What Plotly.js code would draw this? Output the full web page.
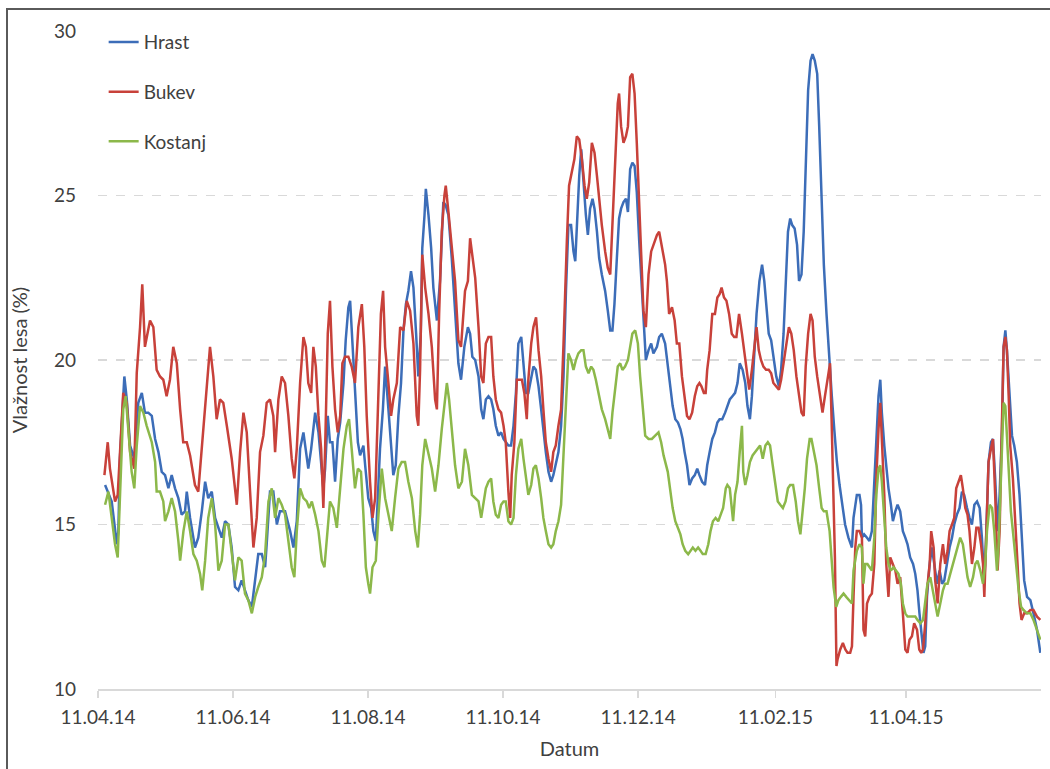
<!DOCTYPE html>
<html><head><meta charset="utf-8">
<script src="https://cdn.plot.ly/plotly-3.0.1.min.js"></script>
<style>
html,body{margin:0;padding:0;background:#fff;overflow:hidden;}
#chart{width:1050px;height:769px;}
#frame{position:absolute;left:6px;top:8px;width:1100px;height:820px;border-left:2px solid #5a5a5a;border-top:2px solid #5a5a5a;pointer-events:none;}
</style></head><body>
<div id="chart"></div><div id="frame"></div>
<script>
// days since 11.04.14
const tickDays = [0,61,122,183,244,306,365];
const tickLabels = ['11.04.14','11.06.14','11.08.14','11.10.14','11.12.14','11.02.15','11.04.15'];

const hrastDay = [3.2,6.2,8.5,9.2,9.9,11.9,13.0,14.5,16.4,18.2,19.8,21.2,22.7,24.3,25.8,27.3,28.8,30.3,31.8,33.3,34.8,36.3,37.8,39.3,40.1,41.6,43.8,45.3,46.9,48.4,49.8,51.4,52.9,54.4,55.9,57.4,58.9,60.4,61.9,63.4,64.9,66.4,67.9,69.5,71.0,72.4,74.0,75.5,76.2,77.7,79.2,80.8,82.2,
84.5,86.8,88.3,89.8,91.3,92.8,93.9,95.0,96.3,98.1,99.6,100.8,101.8,102.6,103.8,104.8,105.9,107.1,108.3,109.4,110.9,111.9,113.1,113.9,114.6,115.4,116.1,117.4,118.4,119.9,120.7,122.1,123.4,124.4,125.5,126.4,127.4,128.7,129.7,131.2,132.4,133.4,134.5,135.7,136.9,138.0,139.1,140.2,141.4,142.5,143.7,144.7,145.8,146.5,147.5,148.1,149.3,150.5,151.5,153.1,154.5,156.0,157.1,158.3,159.8,161.3,162.8,164.0,165.5,167.1,168.1,169.1,
170.4,171.9,173.1,174.1,175.2,176.4,177.6,178.6,179.7,180.9,182.1,183.2,184.2,185.4,186.6,187.7,188.8,189.9,191.2,192.2,193.3,194.4,195.7,196.7,197.8,199.0,200.2,201.2,202.3,203.5,204.7,205.7,206.8,208.0,209.2,210.3,211.4,212.5,213.7,214.8,215.6,216.3,217.4,218.3,219.3,220.4,221.3,222.3,223.4,224.3,225.4,226.4,227.6,229.1,230.3,231.4,232.4,233.3,234.4,235.4,236.3,237.4,238.5,239.4,240.4,241.4,242.4,243.4,244.5,245.7,246.9,247.5,248.7,249.9,250.9,252.5,253.5,254.7,
256.2,257.4,258.5,259.6,260.8,262.0,263.1,264.1,265.0,266.1,267.2,268.4,269.6,270.7,271.7,272.9,274.2,275.2,276.3,277.5,278.7,279.8,280.8,282.0,283.3,284.3,285.4,286.6,287.8,288.9,289.9,291.2,292.4,293.4,294.5,295.4,296.5,297.5,298.8,300.0,301.0,302.1,303.0,304.1,305.1,306.4,307.6,308.6,309.7,310.6,311.7,312.7,313.6,314.7,315.8,316.7,317.8,318.8,319.7,320.8,321.9,322.8,323.8,324.9,325.8,326.9,327.9,329.1,330.4,331.5,332.6,333.8,335.0,336.1,337.5,339.0,340.6,
341.3,342.1,342.8,344.0,344.7,345.1,346.1,347.4,348.5,349.6,350.7,351.6,352.6,353.4,354.1,355.2,356.1,357.1,358.2,359.1,360.2,361.2,362.4,363.6,364.7,365.7,366.9,368.2,369.2,370.2,371.1,372.0,372.9,373.7,374.5,375.7,376.7,377.8,379.0,380.2,381.3,382.3,383.5,384.7,385.8,386.8,388.0,389.2,390.3,391.3,392.6,393.7,394.8,395.9,397.1,398.3,399.3,400.4,401.3,402.3,403.4,404.3,405.3,406.4,407.3,408.4,409.1,409.9,410.6,411.8,412.9,413.9,415.1,416.3,417.2,418.4,419.7,421.2,422.6,424.2,425.7];
const hrastVal = [16.2,15.7,14.4,14.8,17.0,19.5,18.8,17.4,17.0,18.7,19.0,18.4,18.4,18.3,17.6,17.2,16.6,16.5,16.1,16.5,16.1,15.8,15.3,15.4,16.0,15.2,14.3,14.6,15.4,16.3,15.8,16.0,15.2,14.9,14.6,15.1,15.0,14.3,13.1,13.0,13.3,13.0,12.7,12.5,13.3,14.1,14.1,13.7,14.4,16.0,16.0,15.0,15.4,
15.4,14.8,14.3,15.1,17.3,17.8,17.3,16.7,17.3,18.4,17.8,16.8,16.1,16.7,18.3,17.5,17.5,16.3,17.6,18.1,19.3,20.6,21.6,21.8,20.9,20.1,19.3,17.5,17.1,17.4,16.8,15.8,15.5,14.8,14.5,15.8,17.3,18.5,19.8,18.5,17.3,16.5,16.8,18.3,19.3,20.9,21.7,22.1,22.7,22.2,20.8,19.5,20.8,23.4,24.4,25.2,24.4,23.4,22.2,21.2,22.4,24.8,24.7,24.4,23.1,21.4,19.9,19.4,20.4,21.0,20.8,20.1,
20.0,19.5,18.5,18.2,18.8,18.9,18.8,18.5,18.0,17.7,17.8,17.6,17.5,17.4,17.4,18.0,19.0,20.5,20.7,20.0,19.0,19.0,19.5,19.8,19.7,19.2,18.5,17.8,17.2,16.6,16.3,16.5,16.8,17.2,18.0,19.5,22.1,24.1,24.1,23.3,23.0,24.1,25.6,26.4,25.3,24.4,23.8,24.6,24.9,24.6,23.9,23.1,22.6,22.1,21.5,20.9,20.9,21.7,23.1,24.3,24.6,24.8,24.9,24.5,25.8,26.0,25.9,25.1,23.6,22.1,20.5,20.0,20.3,20.5,20.2,20.4,20.7,20.8,
20.5,19.8,19.3,18.6,18.2,18.1,17.9,17.6,17.2,16.8,16.2,16.4,16.5,16.7,16.5,16.3,16.2,16.8,17.2,17.6,17.8,18.1,18.2,18.2,18.4,18.6,18.8,18.9,19.0,19.3,19.9,19.7,19.3,18.6,18.2,18.9,20.3,21.4,22.4,22.9,22.4,21.4,20.8,20.6,20.1,19.5,19.2,19.7,20.8,22.4,23.9,24.3,24.1,24.0,23.5,22.4,22.6,23.9,26.1,28.2,29.1,29.3,29.1,28.7,27.1,25.0,22.9,21.4,19.9,18.9,17.9,16.9,16.2,15.6,15.0,14.6,14.3,
15.2,15.6,15.9,15.9,15.6,14.6,14.7,14.6,14.5,14.8,16.4,17.9,18.9,19.4,18.4,17.4,16.7,16.1,15.6,15.1,15.4,15.6,15.4,14.8,14.6,14.4,14.0,13.8,13.5,13.0,12.3,11.6,11.1,11.3,12.8,13.8,14.3,13.8,13.2,13.6,13.2,13.3,13.8,14.3,14.6,15.0,15.3,15.5,16.0,15.9,15.5,15.2,15.0,15.6,15.7,15.5,14.6,13.2,14.8,16.9,17.5,17.6,16.4,14.8,15.9,17.9,20.4,20.9,20.3,18.9,17.7,17.4,16.9,15.9,14.6,13.3,12.8,12.7,12.3,11.8,11.1];

const bukevDay = [2.9,4.4,5.4,7.7,8.9,9.9,11.4,13.0,14.5,16.4,17.5,19.0,20.0,21.2,23.5,25.0,26.5,28.0,29.5,31.0,32.5,34.0,35.6,37.1,38.5,40.1,41.6,43.8,45.3,46.5,48.4,50.6,52.1,53.6,55.1,56.6,58.2,60.4,62.7,64.2,65.7,67.2,68.7,70.2,71.7,73.2,74.7,76.2,77.7,79.2,80.0,81.5,83.0,
84.5,86.0,87.5,88.7,89.8,91.3,92.8,93.9,95.0,96.3,97.3,98.4,99.6,100.8,101.8,102.6,103.8,104.8,105.9,107.1,108.3,109.4,110.4,111.6,113.1,114.6,116.1,117.6,119.2,120.3,121.4,122.9,124.0,125.2,126.7,127.8,128.8,129.7,131.2,132.4,133.4,135.0,136.5,138.0,139.5,141.0,142.5,144.0,144.7,145.5,146.5,147.8,149.3,150.8,152.3,153.1,154.1,155.3,156.5,157.1,158.3,159.8,161.3,162.8,164.0,165.8,167.1,168.1,169.1,
170.4,171.9,173.1,174.1,175.2,176.4,177.6,178.6,179.7,180.9,182.1,183.2,184.2,185.4,186.2,186.9,188.1,189.2,190.2,191.5,192.6,193.7,194.4,195.7,196.7,197.9,199.0,200.2,201.2,202.3,203.5,204.7,205.7,206.8,208.0,209.2,210.3,211.0,211.8,212.8,214.1,215.2,216.3,217.4,218.6,219.8,220.8,221.9,223.1,224.3,225.4,226.4,227.6,229.1,230.3,231.4,232.4,233.6,234.8,235.4,236.3,237.4,238.5,239.4,240.4,241.4,242.4,243.4,244.5,245.7,246.4,247.5,248.7,249.9,250.9,252.5,253.5,254.7,256.2,
257.0,258.0,259.3,260.5,261.5,262.6,263.8,265.0,266.1,267.2,268.4,269.6,270.7,271.7,272.6,273.7,274.5,275.2,276.3,277.5,278.7,279.8,280.8,281.7,282.8,283.9,285.1,286.3,287.4,288.4,289.6,290.9,291.9,293.0,294.2,295.4,296.5,297.5,298.5,299.5,300.6,301.8,303.0,304.1,305.1,306.4,307.6,308.6,309.7,310.9,312.1,313.2,314.3,315.5,316.7,317.8,318.8,319.7,320.8,321.9,322.8,323.8,324.9,326.1,327.3,328.4,329.4,330.7,331.4,332.2,332.9,
333.6,334.1,335.3,336.5,337.6,338.6,339.8,340.6,341.3,342.1,342.8,344.0,345.1,345.8,346.6,347.4,348.5,349.6,350.7,351.6,352.6,353.4,354.1,355.2,356.1,357.1,357.9,359.1,360.2,361.2,362.4,363.6,364.7,365.7,366.6,367.7,368.7,370.0,371.0,371.9,372.7,373.7,374.5,375.7,376.4,377.5,378.2,379.3,380.5,381.7,382.7,383.8,384.7,385.8,386.8,387.7,388.8,389.8,390.7,391.8,392.8,393.7,394.8,395.9,396.8,397.8,398.9,399.8,400.4,401.3,402.3,403.4,404.3,405.3,406.4,407.3,408.4,409.1,409.9,410.6,411.4,412.1,413.3,414.4,415.4,416.3,417.2,418.4,419.7,421.2,422.6,424.2,425.7];
const bukevVal = [16.5,17.5,16.7,15.7,15.9,17.0,19.0,18.7,17.2,16.7,19.6,21.0,22.3,20.4,21.2,21.0,19.7,19.5,19.4,18.9,19.4,20.4,19.9,18.5,17.5,17.5,17.1,16.2,16.0,17.0,18.5,20.4,19.5,18.2,18.8,18.7,18.0,17.0,15.6,17.2,18.4,17.8,16.0,14.3,15.2,17.2,17.7,18.7,18.8,18.3,17.2,18.8,19.5,
19.3,18.3,17.0,16.4,17.3,19.3,20.7,20.4,19.3,19.0,20.4,19.8,18.3,17.3,15.5,17.3,20.8,21.8,19.8,18.5,17.8,18.3,19.9,20.1,20.1,19.8,19.3,21.0,21.7,20.4,18.3,16.3,15.2,15.8,19.3,21.4,22.1,20.4,19.3,18.3,18.8,19.3,21.0,20.9,21.8,21.5,20.5,18.3,18.0,19.7,23.2,22.2,21.4,20.4,18.8,18.5,21.4,23.9,25.0,25.3,24.5,23.5,22.4,20.6,20.4,22.1,22.4,23.7,23.1,
22.5,21.0,19.5,19.3,20.5,20.7,20.7,19.5,18.8,18.5,18.4,18.0,17.5,16.0,15.2,16.5,17.5,19.4,19.4,19.4,19.0,18.2,19.4,20.5,21.0,21.3,20.3,19.5,18.5,17.5,17.0,16.6,17.2,17.4,18.0,18.5,20.5,22.1,23.6,25.3,25.7,26.1,26.8,26.7,26.1,25.3,24.9,25.4,26.6,26.3,25.6,24.9,24.1,23.3,22.8,22.6,24.1,26.1,27.8,28.1,27.1,26.6,26.8,27.1,28.6,28.7,28.1,26.6,24.6,22.6,21.5,21.0,22.6,23.3,23.5,23.8,23.9,23.5,22.9,
22.4,21.4,21.6,21.2,20.5,20.5,19.5,18.8,18.3,18.2,18.4,18.9,19.2,19.3,19.2,19.0,19.0,19.7,20.3,21.4,21.4,21.9,22.0,22.2,21.9,21.8,21.4,20.8,20.7,20.7,21.4,20.8,20.3,19.7,19.1,19.7,20.3,21.0,20.3,20.0,19.8,19.7,19.7,19.6,19.3,19.2,19.1,19.4,19.9,20.5,21.0,20.8,20.3,19.5,18.9,18.4,18.3,19.8,20.8,21.4,21.2,20.1,19.5,18.9,18.4,18.9,19.3,19.9,18.2,16.1,14.0,
10.7,10.9,11.2,11.4,11.2,11.1,11.1,11.3,12.8,14.3,14.8,14.8,14.6,11.8,11.6,12.6,12.8,12.9,13.8,16.4,17.9,18.7,17.6,15.9,13.8,12.8,14.0,13.8,13.6,13.2,13.4,12.3,11.2,11.1,11.5,11.6,12.0,11.8,11.2,11.1,11.2,12.0,13.0,13.8,14.8,14.3,13.3,12.6,13.8,14.4,13.8,14.2,14.8,15.0,15.2,16.1,16.3,16.5,16.1,15.5,15.3,14.8,13.8,14.3,14.9,14.9,14.4,13.8,12.8,14.8,16.9,17.3,17.6,15.9,13.6,14.8,17.9,20.4,20.7,20.3,18.9,17.4,16.4,15.2,13.8,12.6,12.1,12.3,12.3,12.4,12.4,12.2,12.1];

const kostanjDay = [3.2,4.7,6.2,7.7,8.9,9.9,11.4,12.5,13.7,15.2,16.4,17.5,19.0,20.5,22.0,24.3,25.8,26.5,28.0,29.5,30.3,31.8,33.3,34.8,36.3,37.1,38.6,40.1,41.6,43.1,44.6,46.1,47.1,48.4,49.8,51.4,52.9,54.4,55.9,57.4,58.9,60.4,61.9,63.4,64.9,66.4,67.9,69.5,71.0,72.4,74.0,75.5,77.0,78.5,80.0,81.5,83.0,
84.5,86.0,87.5,88.7,89.8,91.3,92.8,94.3,95.4,96.6,98.1,99.6,101.1,102.3,103.4,104.8,106.3,107.9,109.4,110.9,112.4,113.4,114.6,116.1,117.4,118.8,119.9,121.0,122.1,122.9,124.0,125.5,126.7,128.2,129.7,131.2,132.7,134.2,135.7,137.2,138.7,140.2,141.8,143.3,144.5,145.5,146.5,147.8,149.3,150.8,152.3,153.8,155.3,156.5,157.6,158.6,159.8,161.3,162.8,164.4,165.8,167.3,168.9,
170.4,171.9,173.1,174.1,175.2,176.4,177.6,178.6,179.7,180.9,182.1,183.2,184.2,185.4,186.6,187.7,188.8,189.9,191.2,192.2,193.3,194.4,195.7,196.7,197.8,199.0,200.2,201.2,202.3,203.5,204.7,205.7,206.8,208.0,209.2,210.3,211.4,212.5,213.7,214.8,215.9,217.0,218.3,219.3,220.4,221.6,222.8,223.8,224.9,226.1,227.6,229.1,230.3,231.4,232.4,233.6,234.8,235.9,236.9,238.1,239.4,240.4,241.4,242.7,243.9,244.9,246.0,247.2,248.7,250.2,251.7,253.2,254.4,255.5,
257.4,258.5,259.6,260.8,262.0,263.1,264.1,265.3,266.6,267.6,268.7,269.9,271.1,272.2,273.2,274.5,275.7,276.7,277.8,279.0,280.2,281.3,282.4,283.6,284.3,285.4,286.3,286.9,287.8,288.9,289.9,290.9,291.5,292.4,293.4,294.5,295.7,296.9,298.0,299.1,300.3,301.5,302.6,303.6,304.8,306.1,307.1,308.2,309.4,310.6,311.7,312.7,314.0,315.2,316.2,317.3,318.2,319.3,320.3,321.5,322.3,323.4,324.6,325.8,326.9,327.9,329.1,
330.5,331.5,332.3,333.5,334.5,335.6,336.8,338.0,339.1,340.6,341.3,342.1,342.8,344.0,345.1,345.8,346.6,347.6,348.5,349.6,350.7,351.6,352.6,353.4,354.1,355.2,356.1,357.1,358.2,359.4,360.6,361.6,362.7,363.6,364.7,365.7,366.9,368.2,369.2,370.2,371.5,372.7,373.7,374.7,376.0,377.2,378.2,379.3,380.5,381.7,382.7,383.8,385.0,386.2,387.3,388.3,389.5,390.7,391.8,392.8,394.0,395.3,396.3,397.3,398.6,399.8,400.8,401.6,402.8,403.9,404.9,406.1,406.8,407.6,408.4,409.1,409.9,410.6,411.4,412.4,413.6,414.8,415.9,417.0,418.1,419.7,421.2,422.6,424.2,425.7];
const kostanjVal = [15.6,16.0,15.2,14.4,14.0,16.0,18.5,18.9,17.8,16.6,16.1,17.4,18.6,18.4,18.0,17.5,16.9,16.0,16.0,15.7,15.1,15.4,15.8,15.4,14.5,13.9,14.8,15.4,14.8,14.1,13.9,13.5,13.0,13.9,15.2,15.8,15.0,13.6,13.9,15.0,15.0,14.1,13.3,14.0,13.9,12.9,12.7,12.3,12.8,13.1,13.4,14.1,15.7,16.1,15.2,15.8,15.6,
15.3,14.5,13.7,13.4,14.8,16.1,15.8,15.7,15.5,15.7,15.3,14.8,13.9,13.7,14.6,15.7,15.5,14.9,16.1,17.3,18.0,18.2,17.3,16.1,16.7,16.6,15.3,13.7,13.2,12.9,13.7,13.9,15.3,16.7,15.8,15.3,14.8,15.8,16.7,16.9,16.9,16.3,15.8,14.8,14.3,15.3,16.8,17.6,17.1,16.7,16.0,16.8,17.9,18.7,19.3,18.8,17.8,16.8,16.1,16.3,17.3,16.8,15.9,
15.8,15.7,15.2,15.7,16.1,16.3,16.4,15.7,15.3,15.2,15.6,15.7,15.7,15.1,15.0,15.2,16.5,17.3,17.6,17.0,16.4,15.9,16.2,16.7,16.8,16.4,15.8,15.2,14.8,14.4,14.3,14.4,14.8,15.1,15.6,17.0,18.5,20.2,20.0,19.7,20.0,20.2,20.3,20.3,19.8,19.6,19.8,19.7,19.4,19.0,18.5,18.2,17.9,17.6,18.4,19.2,19.8,19.9,19.7,19.8,20.0,20.4,20.8,20.9,20.5,19.5,18.5,17.7,17.6,17.6,17.7,17.8,17.5,17.1,
16.6,16.0,15.5,15.1,14.9,14.7,14.4,14.2,14.1,14.2,14.3,14.2,14.3,14.2,14.1,14.1,14.4,14.8,15.1,15.2,15.1,15.3,15.5,16.1,16.2,16.1,15.5,15.1,15.9,16.3,17.2,18.0,16.6,16.2,16.5,16.9,17.1,17.2,17.3,17.4,17.0,17.4,17.5,17.4,16.8,16.2,15.7,15.6,15.5,15.7,16.1,16.2,16.2,15.7,15.1,14.7,15.3,16.1,17.0,17.6,17.6,17.2,16.8,16.1,15.5,15.4,15.4,
14.8,13.8,13.1,12.5,12.7,12.8,12.9,12.8,12.7,12.6,13.6,14.0,14.2,14.4,14.3,13.2,13.8,13.8,13.7,13.6,14.6,15.9,16.7,16.8,16.3,15.2,14.3,13.8,13.6,13.7,13.6,13.5,13.2,12.6,12.3,12.2,12.2,12.2,12.2,12.1,12.0,12.1,12.6,13.2,13.4,13.0,12.6,12.2,12.6,13.0,13.2,13.2,13.5,13.8,14.0,14.3,14.6,14.4,13.8,13.4,13.1,13.4,13.8,13.9,13.6,13.2,13.8,14.8,15.6,15.5,14.8,13.6,14.3,15.9,17.4,18.7,18.6,17.6,16.4,15.4,14.6,13.8,13.0,12.5,12.4,12.3,12.3,12.1,11.8,11.5];

const FONT = 'Lato, "Open Sans", sans-serif';
const TXT = '#404040';

function mk(name, x, y, color, grp) {
  return {type:'scatter', mode:'lines', name:name, x:x, y:y, legendgroup:grp,
          line:{color:color, width:2.5}, hoverinfo:'skip'};
}

const traces = [
  mk('Hrast', hrastDay, hrastVal, '#3C6DB8', 'a'),
  mk('Bukev', bukevDay, bukevVal, '#C8413A', 'b'),
  mk('Kostanj', kostanjDay, kostanjVal, '#8CB84A', 'c')
];

const layout = {
  width:1050, height:769,
  margin:{l:98, r:9, t:31, b:80, pad:0},
  paper_bgcolor:'#fff', plot_bgcolor:'#fff',
  font:{family:FONT, size:19, color:TXT},
  showlegend:true,
  legend:{x:0.006, y:1.012, xanchor:'left', yanchor:'top', bgcolor:'rgba(255,255,255,1)',
          font:{family:FONT, size:19, color:TXT}, tracegroupgap:22, traceorder:'grouped'},
  xaxis:{type:'linear', range:[0,426], tickvals:tickDays, ticktext:tickLabels,
         showgrid:false, zeroline:false, showline:true, linecolor:'#d9d9d9', linewidth:1.5,
         ticks:'outside', ticklen:7, tickwidth:1.5, tickcolor:'#d9d9d9', ticklabelstandoff:4,
         tickfont:{family:FONT, size:19, color:TXT},
         title:{text:'Datum', font:{family:FONT, size:20, color:TXT}, standoff:14}},
  yaxis:{range:[10,30], tickvals:[10,15,20,25,30], showgrid:true, gridcolor:'#d9d9d9', gridwidth:1.5,
         griddash:'dash', zeroline:false, showline:false, ticks:'', ticklabelstandoff:21,
         tickfont:{family:FONT, size:19, color:TXT},
         title:{text:'Vlažnost lesa (%)', font:{family:FONT, size:20, color:TXT}, standoff:20}}
};

Plotly.newPlot('chart', traces, layout, {staticPlot:true, displayModeBar:false});
</script></body></html>
